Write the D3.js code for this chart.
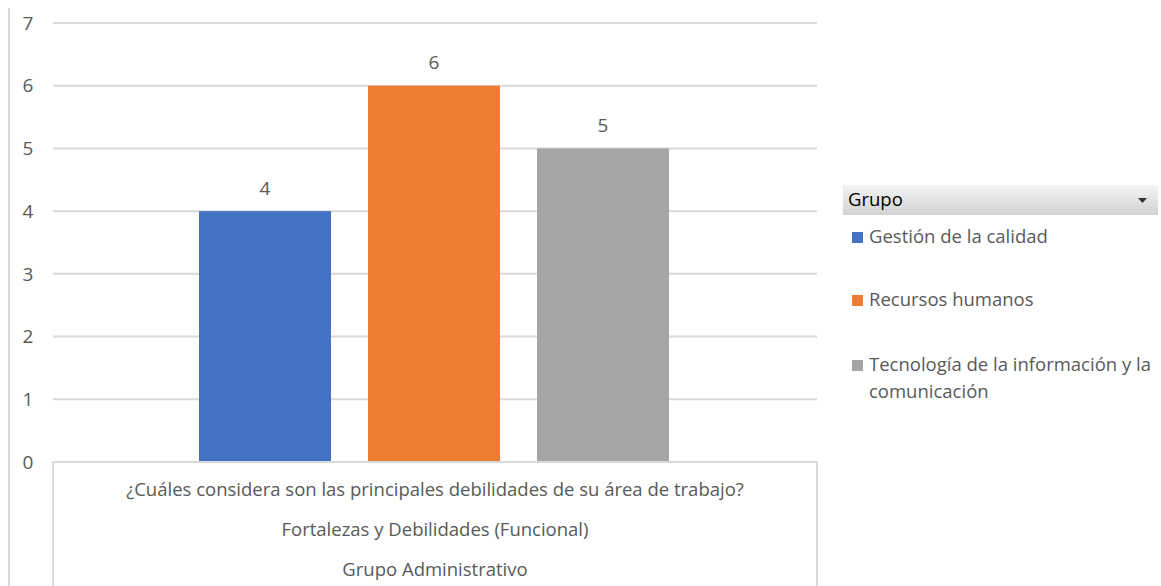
<!DOCTYPE html>
<html><head><meta charset="utf-8">
<script src="https://cdn.jsdelivr.net/npm/d3@7"></script>
<style>
body{margin:0;background:#fff;}
svg{display:block;font-family:"Open Sans","Noto Sans",sans-serif;}
</style></head>
<body><svg id="c" width="1161" height="586"></svg>
<script>
const categories = ["Gestión de la calidad","Recursos humanos","Tecnología de la información y la comunicación"];
const values = [4,6,5];
const colors = ["#4472C4","#ED7D31","#A5A5A5"];
const yTicks = [0,1,2,3,4,5,6,7];
const axisLines = ["¿Cuáles considera son las principales debilidades de su área de trabajo?","Fortalezas y Debilidades (Funcional)","Grupo Administrativo"];
const legendTitle = "Grupo";
const legendLines = [["Gestión de la calidad"],["Recursos humanos"],["Tecnología de la información y la","comunicación"]];

const svg = d3.select("#c");
const textColor = "#595959";
const fs = 18.5;
const plotL = 53, plotR = 817, y0px = 462, y7px = 23;
const y = d3.scaleLinear().domain([0,7]).range([y0px,y7px]);
const xb = d3.scaleBand().domain(categories).range([199,669]).paddingInner(74/338).paddingOuter(0);

// outer left border
svg.append("line").attr("x1",9).attr("x2",9).attr("y1",8).attr("y2",586).attr("stroke","#d9d9d9").attr("stroke-width",2);

// gridlines
svg.append("g").selectAll("line").data(yTicks.filter(d=>d>0)).join("line")
 .attr("x1",plotL).attr("x2",plotR).attr("y1",d=>y(d)).attr("y2",d=>y(d))
 .attr("stroke","#d9d9d9").attr("stroke-width",2);

// tick labels
svg.append("g").selectAll("text").data(yTicks).join("text")
 .attr("x",28).attr("y",d=>y(d)).attr("dy","0.35em").attr("text-anchor","middle")
 .attr("fill",textColor).attr("font-size",19).text(d=>d);

// bars
svg.append("g").selectAll("rect").data(values).join("rect")
 .attr("x",(d,i)=>xb(categories[i])).attr("width",xb.bandwidth())
 .attr("y",d=>y(d)).attr("height",d=>y(0)-y(d)).attr("fill",(d,i)=>colors[i]);

// value labels
svg.append("g").selectAll("text").data(values).join("text")
 .attr("x",(d,i)=>xb(categories[i])+xb.bandwidth()/2).attr("y",d=>y(d)-23).attr("dy","0.35em")
 .attr("text-anchor","middle").attr("fill",textColor).attr("font-size",19).text(d=>d);

// category axis box
svg.append("path").attr("d",`M${plotL},586V${y0px}H${plotR}V586`).attr("fill","none").attr("stroke","#d9d9d9").attr("stroke-width",2);
svg.append("g").selectAll("text").data(axisLines).join("text")
 .attr("x",(plotL+plotR)/2).attr("y",(d,i)=>490+i*40).attr("dy","0.35em").attr("text-anchor","middle")
 .attr("fill",textColor).attr("font-size",fs).text(d=>d);

// legend
const defs = svg.append("defs");
const gr = defs.append("linearGradient").attr("id","hg").attr("x1",0).attr("x2",0).attr("y1",0).attr("y2",1);
gr.append("stop").attr("offset","0%").attr("stop-color","#f4f4f4");
gr.append("stop").attr("offset","100%").attr("stop-color","#d2d2d2");
svg.append("rect").attr("x",843).attr("y",185).attr("width",315).attr("height",30).attr("fill","url(#hg)");
svg.append("text").attr("x",848).attr("y",200).attr("dy","0.35em").attr("font-size",fs).attr("fill","#000").text(legendTitle);
svg.append("path").attr("d","M1138,198h9l-4.5,5z").attr("fill","#333");

const ly = [237,300,365];
const lg = svg.append("g").selectAll("g").data(legendLines).join("g");
lg.append("rect").attr("x",852).attr("y",(d,i)=>ly[i]-5).attr("width",11).attr("height",11).attr("fill",(d,i)=>colors[i]);
lg.each(function(d,i){
  d3.select(this).selectAll("text").data(d).join("text")
   .attr("x",869).attr("y",(t,j)=>ly[i]+j*27).attr("dy","0.35em")
   .attr("fill",textColor).attr("font-size",fs).text(t=>t);
});
</script></body></html>
